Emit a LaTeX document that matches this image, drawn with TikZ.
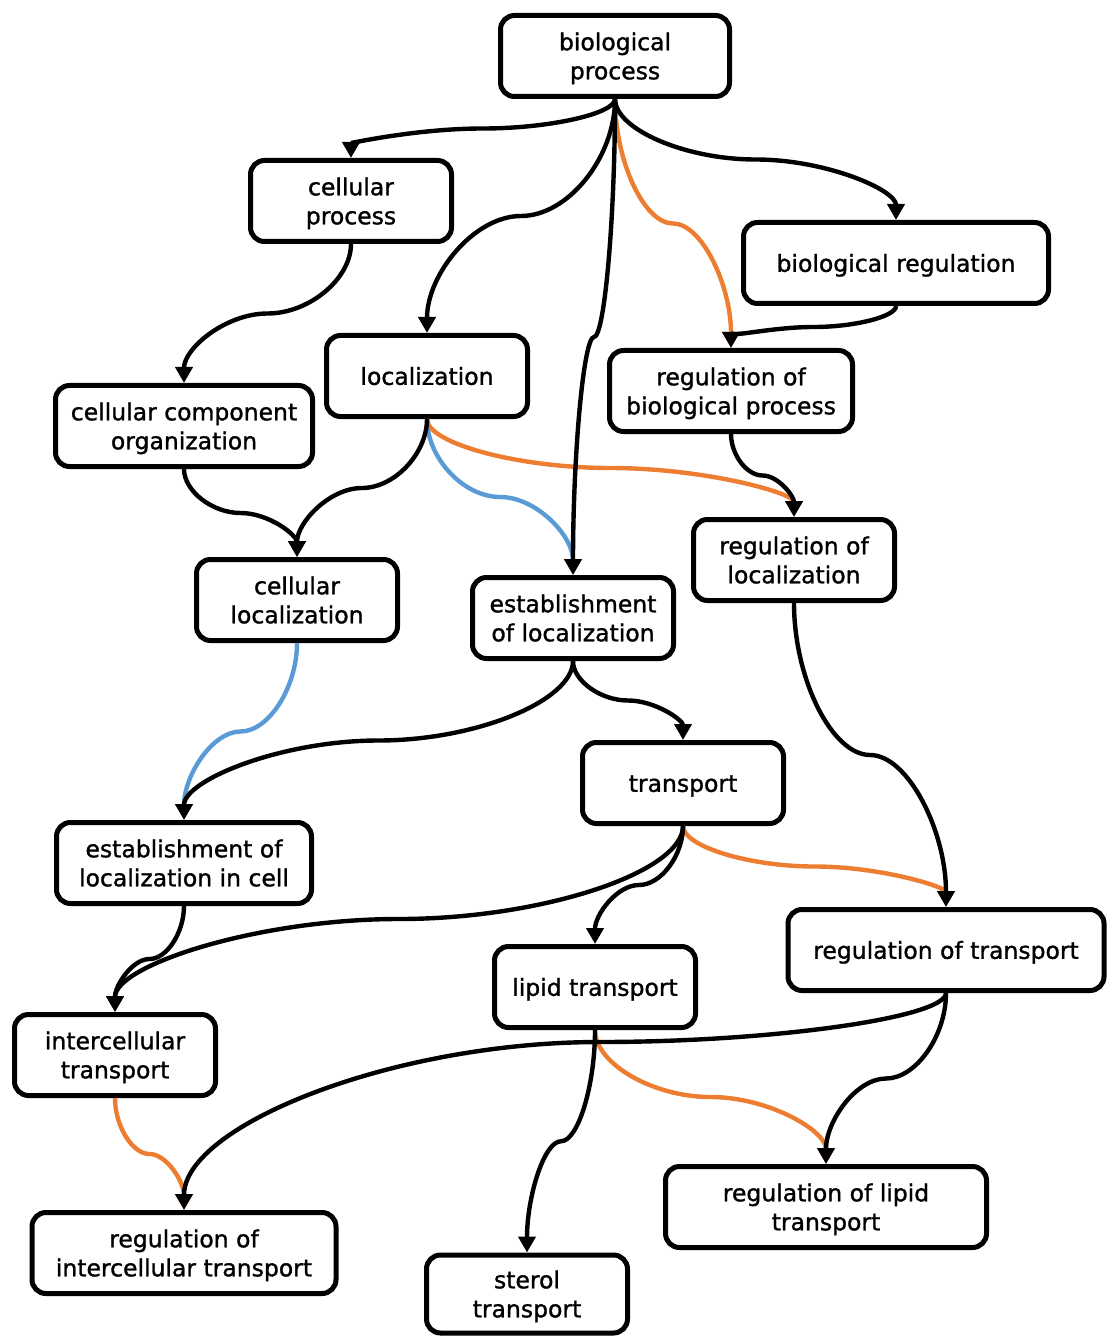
\documentclass[tikz,border=0pt]{standalone}
\usepackage{fontspec}
\setmainfont{DejaVu Sans}[FakeBold=1.2]
\usetikzlibrary{calc,arrows.meta}
\definecolor{edgeorange}{RGB}{237,125,49}
\definecolor{edgeblue}{RGB}{91,155,213}
\tikzset{
  term/.style={draw=black, line width=2.5pt, rounded corners=7pt, fill=white,
    align=center, minimum height=40.5pt, inner sep=2pt, minimum width=#1,
    font=\fontsize{11.75pt}{14.5pt}\selectfont},
  term/.default=100.5pt,
  link/.style={line width=2.2pt, color=#1, -{Triangle[width=8.5pt,length=8pt]}},
  link/.default=black
}
% term name, set a little below the middle of its box
\newcommand\termname[1]{\raisebox{-1.5pt}[\height][\depth]{\begin{tabular}{@{}c@{}}#1\end{tabular}}}
% edge from the bottom of #2 to the top of #3, bending through coordinate #4
\newcommand\golinkvia[4]{%
  \draw[link=#1] (#2.south)
    .. controls ($(#2.south)!0.5!(#2.south|-#4)$) and ($(#4)!0.5!(#4-|#2.south)$) .. (#4)
    .. controls ($(#4)!0.5!(#4-|#3.north)$) and ($(#3.north)!0.5!(#3.north|-#4)$) .. (#3.north);}
% same, bending halfway between the two nodes
\newcommand\golink[3]{%
  \coordinate (mid) at ($(#2.south)!0.5!(#3.north)$);
  \golinkvia{#1}{#2}{#3}{mid}}
\begin{document}
\begin{tikzpicture}[x=0.5pt,y=-0.5pt]
\useasboundingbox (0,0) rectangle (1107,1336);

% terms
\node[term=114.5pt] (bp)   at (615,56)   {\termname{biological\\process}};
\node[term]         (cp)   at (351,201)  {\termname{cellular\\process}};
\node[term=152.5pt] (breg) at (896,263)  {\termname{biological regulation}};
\node[term]         (loc)  at (427,376)  {\termname{localization}};
\node[term=121.5pt] (rbp)  at (731,391)  {\termname{regulation of\\biological process}};
\node[term=128.5pt] (cco)  at (184,426)  {\termname{cellular component\\organization}};
\node[term]         (rloc) at (794,560)  {\termname{regulation of\\localization}};
\node[term]         (cloc) at (297,600)  {\termname{cellular\\localization}};
\node[term]         (eloc) at (573,618)  {\termname{establishment\\of localization}};
\node[term]         (tr)   at (683,783)  {\termname{transport}};
\node[term=127.5pt] (elc)  at (184,863)  {\termname{establishment of\\localization in cell}};
\node[term=158pt]   (rtr)  at (946,950)  {\termname{regulation of transport}};
\node[term]         (lip)  at (595,987)  {\termname{lipid transport}};
\node[term]         (ict)  at (115,1055) {\termname{intercellular\\transport}};
\node[term=160.5pt] (rlip) at (826,1207) {\termname{regulation of lipid\\transport}};
\node[term=152pt]   (rict) at (184,1253) {\termname{regulation of\\intercellular transport}};
\node[term, minimum height=39pt] (ster) at (527,1294) {\termname{sterol\\transport}};

% coloured relations
\golink{edgeorange}{bp}{rbp}
\golink{edgeorange}{loc}{rloc}
\golink{edgeorange}{tr}{rtr}
\golink{edgeorange}{lip}{rlip}
\golink{edgeorange}{ict}{rict}
\golink{edgeblue}{loc}{eloc}
\golink{edgeblue}{cloc}{elc}

% is-a relations
\golink{black}{bp}{cp}
\golink{black}{bp}{loc}
\golink{black}{bp}{eloc}
\golink{black}{bp}{breg}
\golink{black}{breg}{rbp}
\golink{black}{cp}{cco}
\golink{black}{loc}{cloc}
\golink{black}{cco}{cloc}
\golink{black}{rbp}{rloc}
\golink{black}{eloc}{elc}
\golink{black}{eloc}{tr}
\golink{black}{rloc}{rtr}
\golink{black}{tr}{lip}
\golink{black}{tr}{ict}
\golink{black}{elc}{ict}
\coordinate (bend) at (600,1042);
\golinkvia{black}{rtr}{rict}{bend}
\golink{black}{rtr}{rlip}
\golink{black}{lip}{ster}
\end{tikzpicture}
\end{document}
